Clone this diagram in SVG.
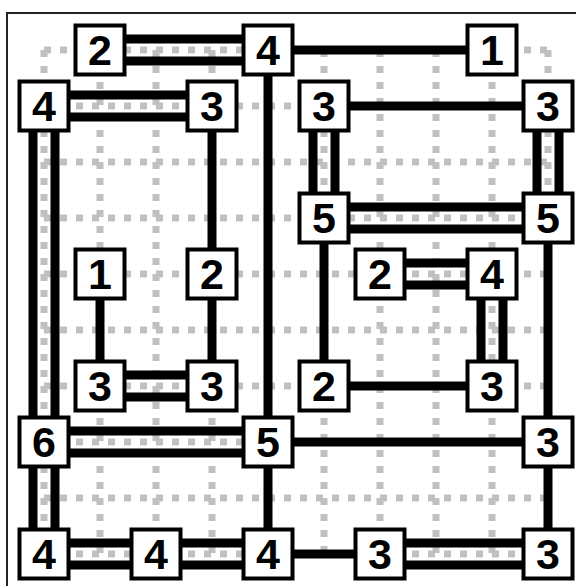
<svg xmlns="http://www.w3.org/2000/svg" width="576" height="586" viewBox="0 0 576 586">
<style>
.grid line{stroke:#c0c0c0;stroke-width:7;stroke-dasharray:7 9}
.br line{stroke:#000;stroke-width:9}
.node rect{fill:#fff;stroke:#000;stroke-width:4}
.node text{font-family:"Liberation Sans",Arial,sans-serif;font-weight:bold;font-size:43px;text-anchor:middle;fill:#000}
</style>
<rect width="576" height="586" fill="#fff"/>
<path d="M7,590 V13 H580" fill="none" stroke="#222" stroke-width="2"/>
<g class="grid" id="grid">
<line x1="44" y1="50" x2="44" y2="554"/>
<line x1="100" y1="50" x2="100" y2="554"/>
<line x1="156" y1="50" x2="156" y2="554"/>
<line x1="212" y1="50" x2="212" y2="554"/>
<line x1="268" y1="50" x2="268" y2="554"/>
<line x1="324" y1="50" x2="324" y2="554"/>
<line x1="380" y1="50" x2="380" y2="554"/>
<line x1="436" y1="50" x2="436" y2="554"/>
<line x1="492" y1="50" x2="492" y2="554"/>
<line x1="548" y1="50" x2="548" y2="554"/>
<line x1="44" y1="50" x2="548" y2="50"/>
<line x1="44" y1="106" x2="548" y2="106"/>
<line x1="44" y1="162" x2="548" y2="162"/>
<line x1="44" y1="218" x2="548" y2="218"/>
<line x1="44" y1="274" x2="548" y2="274"/>
<line x1="44" y1="330" x2="548" y2="330"/>
<line x1="44" y1="386" x2="548" y2="386"/>
<line x1="44" y1="442" x2="548" y2="442"/>
<line x1="44" y1="498" x2="548" y2="498"/>
<line x1="44" y1="554" x2="548" y2="554"/>
</g>
<g class="br" id="connectors">
<line x1="100" y1="39" x2="268" y2="39"/><line x1="100" y1="61" x2="268" y2="61"/>
<line x1="268" y1="50" x2="492" y2="50"/>
<line x1="268" y1="50" x2="268" y2="442"/>
<line x1="44" y1="95" x2="212" y2="95"/><line x1="44" y1="117" x2="212" y2="117"/>
<line x1="33" y1="106" x2="33" y2="442"/><line x1="55" y1="106" x2="55" y2="442"/>
<line x1="212" y1="106" x2="212" y2="274"/>
<line x1="324" y1="106" x2="548" y2="106"/>
<line x1="313" y1="106" x2="313" y2="218"/><line x1="335" y1="106" x2="335" y2="218"/>
<line x1="537" y1="106" x2="537" y2="218"/><line x1="559" y1="106" x2="559" y2="218"/>
<line x1="324" y1="207" x2="548" y2="207"/><line x1="324" y1="229" x2="548" y2="229"/>
<line x1="324" y1="218" x2="324" y2="386"/>
<line x1="548" y1="218" x2="548" y2="442"/>
<line x1="100" y1="274" x2="100" y2="386"/>
<line x1="212" y1="274" x2="212" y2="386"/>
<line x1="380" y1="263" x2="492" y2="263"/><line x1="380" y1="285" x2="492" y2="285"/>
<line x1="481" y1="274" x2="481" y2="386"/><line x1="503" y1="274" x2="503" y2="386"/>
<line x1="100" y1="375" x2="212" y2="375"/><line x1="100" y1="397" x2="212" y2="397"/>
<line x1="324" y1="386" x2="492" y2="386"/>
<line x1="44" y1="431" x2="268" y2="431"/><line x1="44" y1="453" x2="268" y2="453"/>
<line x1="268" y1="442" x2="548" y2="442"/>
<line x1="33" y1="442" x2="33" y2="554"/><line x1="55" y1="442" x2="55" y2="554"/>
<line x1="268" y1="442" x2="268" y2="554"/>
<line x1="548" y1="442" x2="548" y2="554"/>
<line x1="44" y1="543" x2="268" y2="543"/><line x1="44" y1="565" x2="268" y2="565"/>
<line x1="268" y1="554" x2="380" y2="554"/>
<line x1="380" y1="543" x2="548" y2="543"/><line x1="380" y1="565" x2="548" y2="565"/>
</g>
<g class="node" id="n1-0" transform="translate(100,50)"><rect x="-24.5" y="-24.5" width="49" height="49"/><text y="15">2</text></g>
<g class="node" id="n4-0" transform="translate(268,50)"><rect x="-24.5" y="-24.5" width="49" height="49"/><text y="15">4</text></g>
<g class="node" id="n8-0" transform="translate(492,50)"><rect x="-24.5" y="-24.5" width="49" height="49"/><text y="15">1</text></g>
<g class="node" id="n0-1" transform="translate(44,106)"><rect x="-24.5" y="-24.5" width="49" height="49"/><text y="15">4</text></g>
<g class="node" id="n3-1" transform="translate(212,106)"><rect x="-24.5" y="-24.5" width="49" height="49"/><text y="15">3</text></g>
<g class="node" id="n5-1" transform="translate(324,106)"><rect x="-24.5" y="-24.5" width="49" height="49"/><text y="15">3</text></g>
<g class="node" id="n9-1" transform="translate(548,106)"><rect x="-24.5" y="-24.5" width="49" height="49"/><text y="15">3</text></g>
<g class="node" id="n5-3" transform="translate(324,218)"><rect x="-24.5" y="-24.5" width="49" height="49"/><text y="15">5</text></g>
<g class="node" id="n9-3" transform="translate(548,218)"><rect x="-24.5" y="-24.5" width="49" height="49"/><text y="15">5</text></g>
<g class="node" id="n1-4" transform="translate(100,274)"><rect x="-24.5" y="-24.5" width="49" height="49"/><text y="15">1</text></g>
<g class="node" id="n3-4" transform="translate(212,274)"><rect x="-24.5" y="-24.5" width="49" height="49"/><text y="15">2</text></g>
<g class="node" id="n6-4" transform="translate(380,274)"><rect x="-24.5" y="-24.5" width="49" height="49"/><text y="15">2</text></g>
<g class="node" id="n8-4" transform="translate(492,274)"><rect x="-24.5" y="-24.5" width="49" height="49"/><text y="15">4</text></g>
<g class="node" id="n1-6" transform="translate(100,386)"><rect x="-24.5" y="-24.5" width="49" height="49"/><text y="15">3</text></g>
<g class="node" id="n3-6" transform="translate(212,386)"><rect x="-24.5" y="-24.5" width="49" height="49"/><text y="15">3</text></g>
<g class="node" id="n5-6" transform="translate(324,386)"><rect x="-24.5" y="-24.5" width="49" height="49"/><text y="15">2</text></g>
<g class="node" id="n8-6" transform="translate(492,386)"><rect x="-24.5" y="-24.5" width="49" height="49"/><text y="15">3</text></g>
<g class="node" id="n0-7" transform="translate(44,442)"><rect x="-24.5" y="-24.5" width="49" height="49"/><text y="15">6</text></g>
<g class="node" id="n4-7" transform="translate(268,442)"><rect x="-24.5" y="-24.5" width="49" height="49"/><text y="15">5</text></g>
<g class="node" id="n9-7" transform="translate(548,442)"><rect x="-24.5" y="-24.5" width="49" height="49"/><text y="15">3</text></g>
<g class="node" id="n0-9" transform="translate(44,554)"><rect x="-24.5" y="-24.5" width="49" height="49"/><text y="15">4</text></g>
<g class="node" id="n2-9" transform="translate(156,554)"><rect x="-24.5" y="-24.5" width="49" height="49"/><text y="15">4</text></g>
<g class="node" id="n4-9" transform="translate(268,554)"><rect x="-24.5" y="-24.5" width="49" height="49"/><text y="15">4</text></g>
<g class="node" id="n6-9" transform="translate(380,554)"><rect x="-24.5" y="-24.5" width="49" height="49"/><text y="15">3</text></g>
<g class="node" id="n9-9" transform="translate(548,554)"><rect x="-24.5" y="-24.5" width="49" height="49"/><text y="15">3</text></g>
</svg>
